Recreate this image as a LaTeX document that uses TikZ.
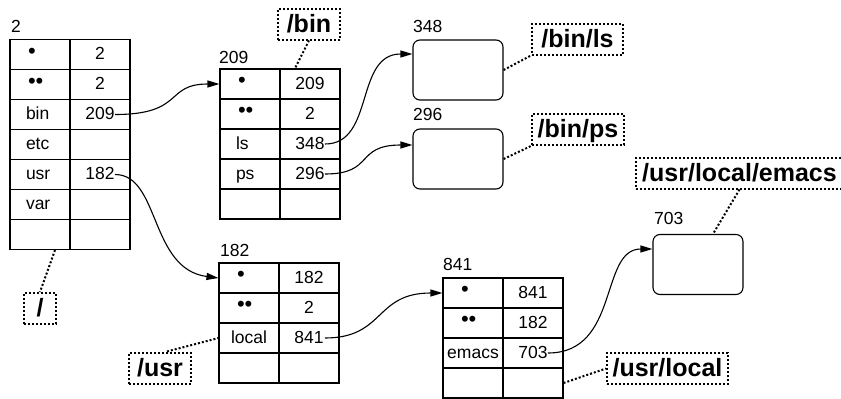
\documentclass[tikz,border=0pt]{standalone}
\usepackage{fontspec}
\setmainfont{Liberation Sans}
\usetikzlibrary{arrows.meta}
\newcommand\regf{\fontsize{17.5}{20}\selectfont}
\newcommand\boldf{\fontsize{25}{28}\selectfont\bfseries}
\newcommand\bul[1]{\raisebox{1.5pt}{\fontsize{22}{22}\selectfont #1}}
\tikzset{
  cell/.style={draw, line width=1.1pt, minimum width=60pt, minimum height=30pt, inner sep=0pt, text height=12.5pt, text depth=2.5pt, font=\regf},
  lcell/.style={cell, text width=28pt, inner xsep=16pt, align=left},
  bcell/.style={cell, text width=24pt, inner xsep=18pt, align=left},
  filebox/.style={draw, line width=1.1pt, rounded corners=7pt, minimum width=90pt, minimum height=60pt, inner sep=0pt},
  numlabel/.style={anchor=base west, font=\regf, inner sep=0pt},
  dotline/.style={line width=2pt, dash pattern=on 2pt off 2pt},
  pathbox/.style={draw, dotline, minimum height=31pt, inner sep=0pt, text height=17pt, text depth=1pt, font=\boldf},
  arr/.style={line width=1.1pt, -{Triangle[length=12pt,width=7pt]}}
}
\begin{document}
\begin{tikzpicture}[x=1pt,y=-1pt]
\useasboundingbox (0,0) rectangle (841,399);
\clip (0,0) rectangle (841,399);

% ---- table for inode 2 (root)
\node[numlabel] (lab2) at (11,32) {2};
\node[bcell] (t1r1a) at (40,54.5) {\bul{•}};
\node[cell]  (t1r1b) at (100,54.5) {2};
\node[bcell] (t1r2a) at (40,84.5) {\bul{••}};
\node[cell]  (t1r2b) at (100,84.5) {2};
\node[lcell] (t1r3a) at (40,114.5) {bin};
\node[cell]  (t1r3b) at (100,114.5) {209};
\node[lcell] (t1r4a) at (40,144.5) {etc};
\node[cell]  (t1r4b) at (100,144.5) {};
\node[lcell] (t1r5a) at (40,174.5) {usr};
\node[cell]  (t1r5b) at (100,174.5) {182};
\node[lcell] (t1r6a) at (40,204.5) {var};
\node[cell]  (t1r6b) at (100,204.5) {};
\node[cell]  (t1r7a) at (40,234.5) {};
\node[cell]  (t1r7b) at (100,234.5) {};

% ---- table for inode 209 (/bin)
\node[numlabel] (lab209) at (219,63) {209};
\node[bcell] (t2r1a) at (250,84) {\bul{•}};
\node[cell]  (t2r1b) at (310,84) {209};
\node[bcell] (t2r2a) at (250,114) {\bul{••}};
\node[cell]  (t2r2b) at (310,114) {2};
\node[lcell] (t2r3a) at (250,144) {ls};
\node[cell]  (t2r3b) at (310,144) {348};
\node[lcell] (t2r4a) at (250,174) {ps};
\node[cell]  (t2r4b) at (310,174) {296};
\node[cell]  (t2r5a) at (250,204) {};
\node[cell]  (t2r5b) at (310,204) {};

% ---- table for inode 182 (/usr)
\node[numlabel] (lab182) at (220,256) {182};
\node[bcell] (t3r1a) at (249,278) {\bul{•}};
\node[cell]  (t3r1b) at (309,278) {182};
\node[bcell] (t3r2a) at (249,308) {\bul{••}};
\node[cell]  (t3r2b) at (309,308) {2};
\node[cell]  (t3r3a) at (249,338) {local};
\node[cell]  (t3r3b) at (309,338) {841};
\node[cell]  (t3r4a) at (249,368) {};
\node[cell]  (t3r4b) at (309,368) {};

% ---- table for inode 841 (/usr/local)
\node[numlabel] (lab841) at (443,270.5) {841};
\node[bcell] (t4r1a) at (473,293) {\bul{•}};
\node[cell]  (t4r1b) at (533,293) {841};
\node[bcell] (t4r2a) at (473,323) {\bul{••}};
\node[cell]  (t4r2b) at (533,323) {182};
\node[cell]  (t4r3a) at (473,353) {emacs};
\node[cell]  (t4r3b) at (533,353) {703};
\node[cell]  (t4r4a) at (473,383) {};
\node[cell]  (t4r4b) at (533,383) {};

% ---- file inodes
\node[numlabel] (lab348) at (413,32) {348};
\node[filebox] (f348) at (458,70) {};
\node[numlabel] (lab296) at (413,120.5) {296};
\node[filebox] (f296) at (458,159) {};
\node[numlabel] (lab703) at (654,224) {703};
\node[filebox] (f703) at (698,264.5) {};

% ---- path name boxes
\node[pathbox, minimum width=32pt]  (proot)  at (40,308.5) {/};
\node[pathbox, minimum width=62pt]  (pbin)   at (309,24) {/bin};
\node[pathbox, minimum width=91pt]  (pbinls) at (577.5,39) {/bin/ls};
\node[pathbox, minimum width=92pt]  (pbinps) at (578,129.5) {/bin/ps};
\node[pathbox, minimum width=207pt] (pemacs) at (739.5,173) {/usr/local/emacs};
\node[pathbox, minimum width=62pt]  (pusr)   at (160,368) {/usr};
\node[pathbox, minimum width=121pt] (plocal) at (667.5,368.5) {/usr/local};

% ---- dotted connectors
\draw[dotline] ([xshift=15pt]t1r7a.south) -- (proot.north);
\draw[dotline] (pbin.south) -- ([xshift=-15pt]t2r1b.north);
\draw[dotline] (f348.east) -- (pbinls.south west);
\draw[dotline] (f296.east) -- (pbinps.south west);
\draw[dotline] (pemacs.south) -- ([xshift=15pt]f703.north);
\draw[dotline] ([xshift=7pt]pusr.north) -- (t3r3a.west);
\draw[dotline] (t4r4b.east) -- (plocal.west);

% ---- pointer arrows
\draw[arr] ([xshift=15pt]t1r3b.center) .. controls +(70,0) and +(-55,0) .. (t2r1a.west);
\draw[arr] ([xshift=15pt]t1r5b.center) .. controls +(45,0) and +(-69,-9) .. (t3r1a.west);
\draw[arr] ([xshift=15pt]t2r3b.center) .. controls +(50,0) and +(-58,0) .. (f348.west |- 0,54);
\draw[arr] ([xshift=15pt]t2r4b.center) .. controls +(50,0) and +(-58,0) .. (f296.west |- 0,145);
\draw[arr] ([xshift=16pt]t3r3b.center) .. controls +(60,0) and +(-68,0) .. (t4r1a.west);
\draw[arr] ([xshift=15pt]t4r3b.center) .. controls +(72,0) and +(-53,0) .. (f703.west |- 0,249);
\end{tikzpicture}
\end{document}
